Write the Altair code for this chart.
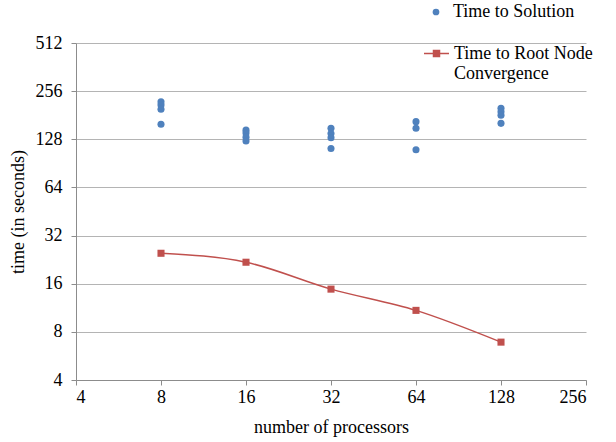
import altair as alt
import pandas as pd

# Time to Solution (scatter)
procs_solution = [8, 8, 8, 8, 16, 16, 16, 16, 32, 32, 32, 32, 64, 64, 64, 128, 128, 128, 128]
time_solution = [220, 210, 197, 159, 146, 140, 132, 125, 150, 139, 131, 112, 165, 150, 110, 200, 190, 181, 161]

# Time to Root Node Convergence (line)
procs_root = [8, 16, 32, 64, 128]
time_root = [24.8, 21.8, 14.8, 10.9, 6.9]

x_ticks = [4, 8, 16, 32, 64, 128, 256]
y_ticks = [4, 8, 16, 32, 64, 128, 256, 512]

s1 = "Time to Solution"
s2 = "Time to Root Node Convergence"

df_sol = pd.DataFrame({"procs": procs_solution, "time": time_solution, "series": s1})
df_root = pd.DataFrame({"procs": procs_root, "time": time_root, "series": s2})

FONT = "Liberation Serif"
BLUE = "#4f81bd"
RED = "#c0504d"

x_enc = alt.X(
    "procs:Q",
    scale=alt.Scale(type="log", base=2, domain=[4, 256], nice=False),
    axis=alt.Axis(values=x_ticks, title="number of processors", grid=False,
                  tickSize=5, labelPadding=3, titlePadding=12, format="d"),
)
y_enc = alt.Y(
    "time:Q",
    scale=alt.Scale(type="log", base=2, domain=[4, 512], nice=False),
    axis=alt.Axis(values=y_ticks, title="time (in seconds)", grid=True,
                  tickSize=5, labelPadding=9, titlePadding=8, format="d"),
)

points = alt.Chart(df_sol).mark_circle(size=50, opacity=1).encode(
    x=x_enc,
    y=y_enc,
    color=alt.Color(
        "series:N",
        scale=alt.Scale(domain=[s1], range=[BLUE]),
        legend=alt.Legend(title=None, orient="none", legendX=351, legendY=-40,
                          symbolType="circle", symbolSize=45, labelOffset=8,
                          padding=0),
    ),
)

line = alt.Chart(df_root).mark_line(
    interpolate="monotone", strokeWidth=1.5,
    point=alt.OverlayMarkDef(shape="square", size=50, filled=True, color=RED),
).encode(
    x=x_enc,
    y=y_enc,
    color=alt.Color(
        "series:N",
        scale=alt.Scale(domain=[s2], range=[RED]),
        legend=alt.Legend(
            title=None, orient="none", legendX=347, legendY=-3,
            symbolType="M-1,0L1,0M-0.24,-0.24L0.24,-0.24L0.24,0.24L-0.24,0.24Z",
            symbolSize=625, symbolStrokeWidth=1.5, symbolFillColor=RED,
            symbolStrokeColor=RED, labelOffset=4, padding=0, labelLimit=300,
            labelExpr="datum.label == 'Time to Root Node Convergence' ? ['Time to Root Node', 'Convergence'] : datum.label",
        ),
    ),
)

chart = alt.layer(points, line).resolve_scale(color="independent").resolve_legend(
    color="independent"
).properties(
    width=510,
    height=337,
    autosize=alt.AutoSizeParams(type="none"),
    padding={"left": 76, "top": 43, "right": 30, "bottom": 62},
    background="white",
).configure_view(stroke=None).configure_axis(
    labelFont=FONT, titleFont=FONT, labelFontSize=18, titleFontSize=18,
    labelColor="black", titleColor="black", titleFontWeight="normal",
    domainColor="#8c8c8c", tickColor="#8c8c8c", gridColor="#b4b4b4",
    domainWidth=1, tickWidth=1, gridWidth=1,
).configure_legend(
    labelFont=FONT, labelFontSize=18, labelColor="black",
)

chart.save("out.html", embed_options={"renderer": "svg", "actions": False})
